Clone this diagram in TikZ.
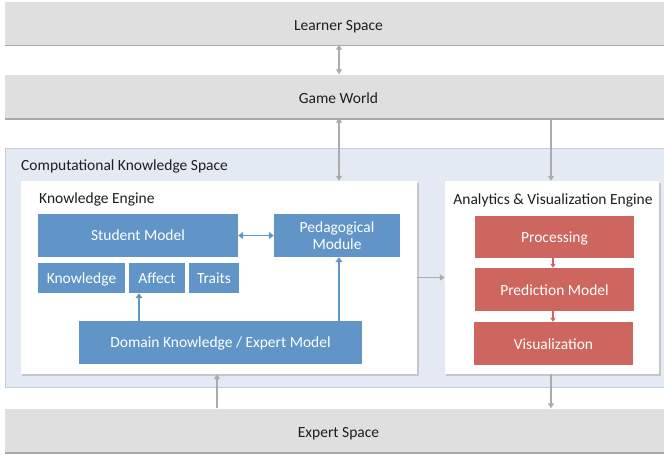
\documentclass[tikz,border=0pt]{standalone}
\usepackage{fontspec}
\setmainfont{Carlito}
\usetikzlibrary{arrows.meta}
\definecolor{gbox}{HTML}{DFDFDF}
\definecolor{gedge}{HTML}{A9A9A9}
\definecolor{ltblue}{HTML}{E3EAF4}
\definecolor{ltedge}{HTML}{C5CEDB}
\definecolor{mblue}{HTML}{6195C8}
\definecolor{mred}{HTML}{CD665F}
\definecolor{garrow}{HTML}{ABABAB}
\definecolor{txt}{HTML}{1E1E1E}
\tikzset{
  graybox/.style={rectangle, fill=gbox, inner sep=0pt, text=txt, font=\fontsize{15.5}{17}\selectfont, text height=14pt, text depth=0pt},
  bluebox/.style={rectangle, fill=mblue, inner sep=0pt, text=white, font=\fontsize{15.5}{18}\selectfont, align=center, text height=10pt, text depth=0pt},
  pbox/.style={rectangle, fill=mblue, inner sep=0pt, text=white, font=\fontsize{15.5}{17.5}\selectfont, align=center},
  redbox/.style={rectangle, fill=mred, inner sep=0pt, text=white, font=\fontsize{15.5}{18}\selectfont, text height=11pt, text depth=0pt},
  whitebox/.style={rectangle, fill=white, inner sep=0pt},
  lbl/.style={text=txt, font=\fontsize{15.5}{17}\selectfont, inner sep=0pt, text height=10pt, text depth=0pt},
  garr/.style={draw=garrow, line width=1.5pt, -{Triangle[width=6pt,length=5pt]}},
  garrb/.style={draw=garrow, line width=1.5pt, {Triangle[width=6pt,length=5pt]}-{Triangle[width=6pt,length=5pt]}},
  barr/.style={draw=mblue, line width=1.6pt, -{Triangle[width=7pt,length=5pt]}},
  barrb/.style={draw=mblue, line width=1.6pt, {Triangle[width=7pt,length=5pt]}-{Triangle[width=7pt,length=5pt]}},
  rarr/.style={draw=mred, line width=1.2pt, -{Triangle[width=5pt,length=4pt]}},
}
\begin{document}
\begin{tikzpicture}[x=1pt,y=-1pt]
\useasboundingbox (0,0) rectangle (664,455);
\fill[white] (0,0) rectangle (664,455);
% shadows for gray boxes
\fill[gedge] (5,3.5) rectangle (672,46);
\fill[gedge] (5,76.5) rectangle (672,119.5);
\fill[gedge] (5,410.5) rectangle (672,453.5);
\node[graybox, minimum width=667pt, minimum height=43pt] (learner) at (338.5,23) {Learner Space};
\node[graybox, minimum width=667pt, minimum height=43pt] (game) at (338.5,96) {Game World};
\node[graybox, minimum width=667pt, minimum height=43pt] (expert) at (338.5,430) {Expert Space};
\node[rectangle, fill=ltblue, draw=ltedge, line width=0.8pt, minimum width=667pt, minimum height=239pt] (cks) at (338.5,267.5) {};
\node[lbl, anchor=west] (cksl) at (21,165) {Computational Knowledge Space};
% white engines with shadow
\fill[gray!45] (22,182.5) rectangle (418.5,375.5);
\fill[gray!45] (446,182.5) rectangle (660.5,375.5);
\node[whitebox, minimum width=396pt, minimum height=193pt] (ke) at (219,277.5) {};
\node[whitebox, minimum width=214pt, minimum height=193pt] (ave) at (552,277.5) {};
\node[lbl, anchor=west] (kel) at (39,198) {Knowledge Engine};
\node[lbl] (avel) at (553,199) {Analytics \& Visualization Engine};
% knowledge engine parts
\node[bluebox, minimum width=200pt, minimum height=43pt] (student) at (138,235.5) {Student Model};
\node[pbox, minimum width=126pt, minimum height=43pt] (ped) at (337,235.5) {Pedagogical\\Module};
\node[bluebox, minimum width=87pt, minimum height=30pt] (know) at (81.5,278) {Knowledge};
\node[bluebox, minimum width=56pt, minimum height=30pt] (affect) at (157,278) {Affect};
\node[bluebox, minimum width=50pt, minimum height=30pt] (traits) at (214,278) {Traits};
\node[bluebox, minimum width=283pt, minimum height=43pt] (domain) at (220.5,342.5) {Domain Knowledge / Expert Model};
% analytics parts
\node[redbox, minimum width=159pt, minimum height=42pt] (proc) at (554.5,237) {Processing};
\node[redbox, minimum width=159pt, minimum height=43pt] (pred) at (554.5,289.5) {Prediction Model};
\node[redbox, minimum width=159pt, minimum height=43pt] (vis) at (553.5,343.5) {Visualization};
% gray connectors
\draw[garrb] (learner.south -| 339,0) -- (game.north -| 339,0);
\draw[garrb] (game.south -| 339,0) -- (ke.north -| 339,0);
\draw[garr] (game.south -| 551,0) -- (ave.north -| 551,0);
\draw[garr] (ke.east) -- (ave.west);
\draw[garr] (expert.north -| 217,0) -- (ke.south -| 217,0);
\draw[garr] (ave.south -| 551,0) -- (expert.north -| 551,0);
% blue connectors
\draw[barrb] (student.east) -- (ped.west);
\draw[barr] (domain.north -| 139,0) -- (affect.south -| 139,0);
\draw[barr] (domain.north -| 339,0) -- (ped.south -| 339,0);
% red connectors
\draw[rarr] (proc.south -| 553,0) -- (pred.north -| 553,0);
\draw[rarr] (pred.south -| 553,0) -- (vis.north -| 553,0);
\end{tikzpicture}
\end{document}
